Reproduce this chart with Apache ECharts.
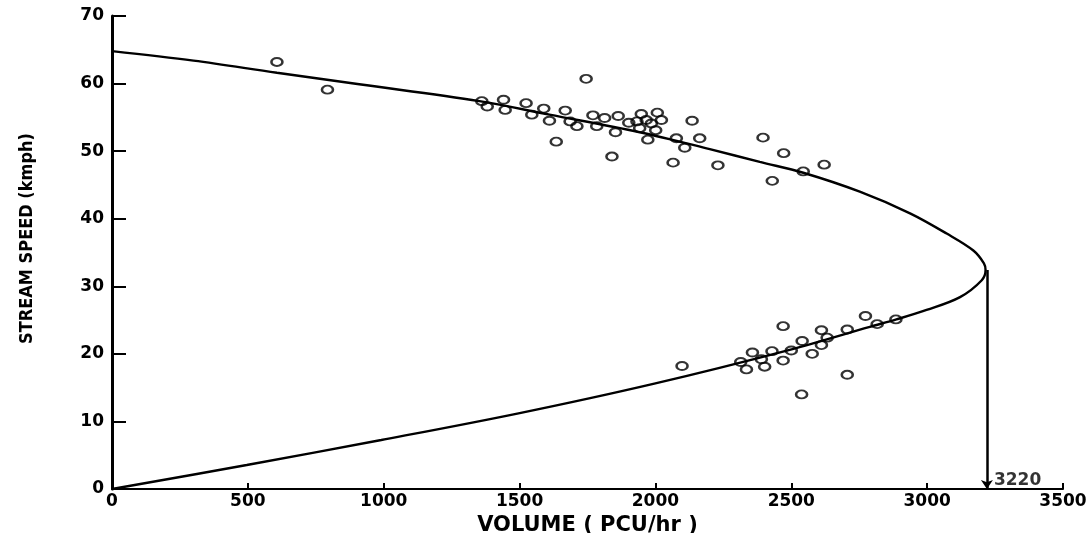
<!DOCTYPE html>
<html>
<head>
<meta charset="utf-8">
<script src="https://cdn.jsdelivr.net/npm/echarts@6/dist/echarts.min.js"></script>
<style>
html,body{margin:0;padding:0;background:#fff;}
#chart{width:1092px;height:533px;}
</style>
</head>
<body>
<div id="chart"></div>
<script>
const observed = [
  [607,63.2],[793,59.1],
  [1745,60.7],[1361,57.4],[1441,57.6],[1524,57.1],[1381,56.6],[1447,56.1],[1589,56.3],[1668,56.0],
  [1545,55.4],[1610,54.5],[1686,54.4],[1711,53.7],[1770,55.3],[1813,54.9],[1863,55.2],[1784,53.7],
  [1853,52.8],[1635,51.4],[1840,49.2],[1948,55.5],[2007,55.7],[1902,54.2],[1932,54.4],[1966,54.6],
  [2022,54.6],[1985,54.1],[1942,53.4],[2001,53.1],[1972,51.7],[2135,54.5],[2077,51.9],[2163,51.9],
  [2108,50.5],[2065,48.3],[2230,47.9],[2396,52.0],[2472,49.7],[2621,48.0],[2544,47.0],[2430,45.6],
  [2098,18.2],[2470,24.1],[2357,20.2],[2429,20.4],[2314,18.8],[2335,17.7],[2402,18.1],[2470,19.0],
  [2390,19.2],[2500,20.5],[2540,21.9],[2577,20.0],[2611,23.5],[2611,21.3],[2632,22.4],[2706,23.6],
  [2773,25.6],[2816,24.4],[2885,25.1],[2706,16.9],[2538,14.0]
];
// Fitted speed-volume curve (upper branch then lower branch)
const curve = [
  [0,64.8],[300,63.4],[607,61.6],[910,59.9],[1352,57.4],[1610,55.4],[1942,52.8],[2200,50.3],
  [2384,48.4],[2544,46.8],[2752,44.0],[2937,40.8],[3072,37.8],[3170,35.3],[3209,33.4],[3215,32.4],
  [3201,30.9],[3121,28.4],[2998,26.5],[2887,25.1],[2789,24.0],[2494,20.6],[1996,15.6],[1496,11.2],
  [991,7.25],[496,3.55],[0,0]
];
const capacity = 3220;
const capacitySpeed = 32.4;
const xTicks = [0,500,1000,1500,2000,2500,3000,3500];
const yTicks = [0,10,20,30,40,50,60,70];

const chart = echarts.init(document.getElementById('chart'));
const labelFont = {color:'#000', fontWeight:'bold', fontFamily:'DejaVu Sans', fontSize:17};
chart.setOption({
  backgroundColor:'#fff',
  animation:false,
  grid:{left:112, right:29, top:16, bottom:44, containLabel:false, outerBoundsMode:'none'},
  xAxis:{
    type:'value', min:xTicks[0], max:xTicks[xTicks.length-1], interval:500,
    name:'VOLUME ( PCU/hr )', nameLocation:'middle', nameGap:26,
    nameTextStyle:{color:'#000', fontWeight:'bold', fontFamily:'DejaVu Sans', fontSize:21, verticalAlign:'top'},
    axisLine:{lineStyle:{color:'#000', width:2}},
    axisTick:{inside:true, length:6, lineStyle:{color:'#000', width:2}},
    axisLabel:Object.assign({margin:4, formatter:function(v){return String(v);}}, labelFont),
    splitLine:{show:false}
  },
  yAxis:{
    type:'value', min:yTicks[0], max:yTicks[yTicks.length-1], interval:10,
    name:'STREAM SPEED (kmph)', nameLocation:'middle', nameGap:76, nameRotate:90,
    nameTextStyle:{color:'#000', fontWeight:'bold', fontFamily:'DejaVu Sans Condensed', fontSize:18, padding:[0,0,0,28]},
    axisLine:{lineStyle:{color:'#000', width:3}},
    axisTick:{inside:true, length:14, lineStyle:{color:'#000', width:2}},
    axisLabel:Object.assign({margin:8, formatter:function(v){return String(v);}}, labelFont),
    splitLine:{show:false}
  },
  series:[
    {
      type:'line', data:curve, smooth:0.35, symbol:'none',
      lineStyle:{color:'#000', width:2.4}, z:2
    },
    {
      type:'lines', coordinateSystem:'cartesian2d', polyline:false,
      data:[{coords:[[capacity,capacitySpeed],[capacity,0]]}],
      symbol:['none','arrow'], symbolSize:9,
      lineStyle:{color:'#000', width:2.5, opacity:1}, z:3
    },
    {
      type:'scatter', data:observed, symbol:'circle', symbolSize:[11,8],
      itemStyle:{color:'rgba(255,255,255,0)', borderColor:'#000', borderWidth:2.2}, z:4
    },
    {
      type:'scatter', data:[[capacity,0]], symbolSize:0, silent:true,
      label:{show:true, formatter:String(capacity), position:[7,-8], verticalAlign:'middle', align:'left',
             color:'#000', fontWeight:'bold', fontFamily:'DejaVu Sans', fontSize:17}, z:5
    }
  ]
});
</script>
</body>
</html>
